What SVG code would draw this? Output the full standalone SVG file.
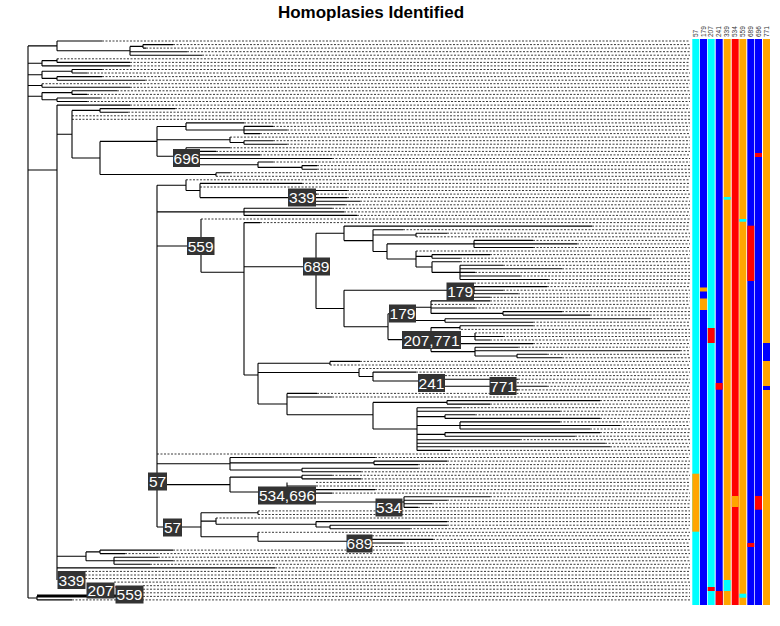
<svg xmlns="http://www.w3.org/2000/svg" width="780" height="626" viewBox="0 0 780 626">
<style>
.ln{fill:none;stroke:#000;stroke-width:1.1}
.dt{fill:none;stroke:#3a3a3a;stroke-width:1;stroke-dasharray:2 1.5}
.bx{fill:#333}
.lb{fill:#fff;font-family:"Liberation Sans",Arial,sans-serif;font-size:15.5px;text-anchor:middle}
.cl{fill:#333;font-family:"Liberation Sans",Arial,sans-serif;font-size:6.5px}
</style>
<rect width="780" height="626" fill="#fff"/>
<text x="371" y="18" font-family="Liberation Sans,Arial,sans-serif" font-weight="bold" font-size="17" text-anchor="middle" fill="#000">Homoplasies Identified</text>

<g id="leaf-guides">
<path class="dt" d="M102 41H690M173 44.6H690M146 48.1H690M187 51.7H690M202 55.2H690M57 58.8H690M130 62.4H690M130 65.9H690M102 69.5H690M87 73H690M102 76.6H690M145 80.2H690M42 83.7H690M130 87.3H690M117 90.8H690M87 94.4H690M100 98H690M87 101.5H690
M130 105.1H690M175 108.6H690M128 112.2H690M72 115.8H690M72 119.3H690M244 122.9H690M273 126.4H690M287 130H690M260 133.6H690M230 137.1H690M273 140.7H690M287 144.2H690M230 147.8H690M216 151.4H690M260 154.9H690M332 158.5H690M273 162H690M317 165.6H690M317 169.2H690M230 172.7H690M216 176.3H690
M186 179.8H690M302 183.4H690M200 187H690M347 190.5H690M317 194.1H690M347 197.6H690M360 201.2H690M345 204.8H690M332 208.3H690M344 211.9H690M357 215.4H690
M201 219H690M260 222.6H690M592 226.1H690M403 229.7H690M447 233.2H690M416 236.8H690M533 240.4H690M577 243.9H690M533 247.5H690M416 251H690M490 254.6H690M460 258.2H690M460 261.7H690M503 265.3H690M562 268.8H690M475 272.4H690M520 276H690M548 279.5H690
M474 283.1H690M547 286.6H690M503 290.2H690M518 293.8H690M490 297.3H690M490 300.9H690M431 304.4H690M475 308H690M562 311.6H690M590 315.1H690M650 318.7H690M533 322.2H690M533 325.8H690M461 329.4H690M475 332.9H690M503 336.5H690M490 340H690M533 343.6H690M518 347.2H690M680 350.7H690M547 354.3H690M562 357.8H690
M360 361.4H690M330 365H690M359 368.5H690M416 372.1H690M445 375.6H690M518 379.2H690M517 382.8H690M547 386.3H690M518 389.9H690M317 393.4H690M332 397H690M600 400.6H690M490 404.1H690M460 407.7H690M560 411.2H690M475 414.8H690M600 418.4H690M560 421.9H690M620 425.5H690M590 429H690M600 432.6H690M575 436.2H690M520 439.7H690M605 443.3H690M610 446.8H690M450 450.4H690
M157 454H690M375 457.5H690M447 461.1H690M418 464.6H690M418 468.2H690M361 471.8H690M332 475.3H690M361 478.9H690M316 482.4H690M316 486H690M375 489.6H690M332 493.1H690M490 496.7H690M447 500.2H690M432 503.8H690M418 507.4H690
M258 510.9H690M258 514.5H690M216 518H690M447 521.6H690M447 525.2H690M410 528.7H690M258 532.3H690M372 535.8H690M433 539.4H690M403 543H690M372 546.5H690
M173 550.1H690M125 553.6H690M158 557.2H690M173 560.8H690M150 564.3H690M275 567.9H690M85 571.4H690M85 575H690M85 578.6H690M114 582.1H690M143 585.7H690M143 589.2H690M143 592.8H690M143 596.4H690M72 599.9H690"/>
</g>

<g id="tree-connectors">
<path class="ln" d="M28 45.9V598M57 41V50.8M130 46.4V55.2M143 44.6V48.1M57 58.8V62.4M42 60.6V65.9M72 69.5V73M57 76.6V80.2M42 71.3V78.4M42 83.7V87.3M72 90.8V94.4M57 98V101.5M42 92.6V99.8
M28 45.9H57M57 50.8H130M130 46.4H143M42 60.6H57M28 63.3H42M42 71.3H72M42 78.4H57M28 74.8H42M28 85.5H42M42 92.6H72M42 99.8H57M28 96.2H42
M57 41H102M143 44.6H173M143 48.1H146M130 51.7H187M130 55.2H202M57 62.4H130M42 65.9H130M72 69.5H102M72 73H87M57 76.6H102M57 80.2H145M42 87.3H130M72 90.8H117M72 94.4H87M57 98H100M57 101.5H87"/>
<path class="ln" d="M57 105.1V580M28 170H57M57 105.1H130
M100 108.6V112.2M72 110.4H100M100 108.6H175M100 112.2H128M72 110.4V158M57 134.2H72
M186 122.9V130M157 126.5H186M186 122.9H244M244 126.4V133.6M186 130H244M244 126.4H273M244 130H287M244 133.6H260
M230 137.1V142.5M157 139.8H230M244 140.7V144.2M230 142.5H244M244 140.7H273M244 144.2H287
M186 147.8V164.7M157 156.3H186M186 147.8H230M186 151.4H216M186 154.9H260M186 158.5H332M258 162V167.4M186 164.7H258M258 162H273M302 165.6V169.2M258 167.4H302M302 165.6H317M302 169.2H317
M157 126.5V156.3M100 141.4H157M216 172.7V176.3M100 174.5H216M216 172.7H230M100 141.4V174.5M72 158H100
M186 179.8V190.5M157 185.2H186M200 183.4V197.6M186 190.5H200M200 183.4H302M302 190.5V204.8M200 197.6H302M302 190.5H347M302 194.1H317M302 197.6H347M302 201.2H360M302 204.8H345
M244 208.3V215.4M157 211.9H244M244 208.3H332M244 211.9H344M244 215.4H357
M157 185.2V527"/>
<path class="ln" d="M201 219V272.3M157 246H201M244 222.6V375M201 272.3H244M244 222.6H260
M316 233.3V308.5M244 266.7H316M344 226.1V240.6M316 233.3H344M344 226.1H592M373 229.7V251.5M344 240.6H373M373 229.7H403M416 233.2V236.8M373 235H416M416 233.2H447
M387 243.9V259M373 251.5H387M474 240.4V247.5M387 243.9H474M474 240.4H533M474 243.9H577M474 247.5H533
M416 251V267M387 259H416M432 254.6V258.2M416 256.4H432M432 254.6H490M432 258.2H460M432 261.7V272.4M416 267H432M432 261.7H460
M460 265.3V279.5M432 272.4H460M460 265.3H503M460 268.8H562M460 272.4H475M460 276H520M460 279.5H548
M344 290.2V326.7M316 308.5H344M460 283.1V297.3M344 290.2H460M474 286.6V293.8M460 290.2H474M474 286.6H547M474 290.2H503M474 293.8H518M460 297.3H490
M388 313.8V339.6M344 326.7H388M402 307.2V320.5M388 313.8H402M431 300.9V313.4M402 307.2H431M431 300.9H490M431 308H475M503 311.6V315.1M431 313.4H503M503 311.6H562M503 315.1H590M445 318.7V322.2M402 320.5H445M445 318.7H650M445 322.2H533
M431 327.6V351.6M388 339.6H431M460 325.8V329.4M431 327.6H460M460 325.8H533M475 332.9V340M431 336.5H475M475 336.5H503M475 340H490M431 343.6H533M475 347.2V356M431 351.6H475M475 347.2H518M475 350.7H680M517 354.3V357.8M475 356H517M517 354.3H547M517 357.8H562"/>
<path class="ln" d="M258 363.2V404M244 375H258M330 361.4V365M258 363.2H330M330 361.4H360M359 368.5V376.5M258 372.5H359M373 372.1V381M359 376.5H373M373 372.1H416
M431 375.6V386.3M373 381H431M431 379.2H518M503 382.8V389.9M431 386.3H503M503 386.3H547M503 389.9H518
M287 393.4V414.7M258 404H287M287 393.4H317M287 397H332M373 402.4V429M287 414.7H373M447 400.6V404.1M373 402.4H447M447 400.6H600M447 404.1H490
M417 407.7V450.4M373 429H417M417 407.7H460M417 411.2H560M445 414.8V418.4M417 416.6H445M445 414.8H475M445 418.4H600M460 421.9V429M417 425.5H460M460 421.9H560M460 425.5H620M460 429H590M445 432.6V436.2M417 434.4H445M445 432.6H600M445 436.2H575M417 439.7H520M417 443.3H605M417 446.8H610M417 450.4H450
M230 457.5V470M157 463.8H230M230 457.5H375M374 461.1V464.6M230 462.9H374M374 461.1H447M374 464.6H418M302 468.2V471.8M230 470H302M302 468.2H418M302 471.8H361
M230 477.1V492M157 484.6H230M302 475.3V478.9M230 477.1H302M302 475.3H332M302 478.9H361
M287 482.4V502M230 492H287M287 486H316M287 489.6H375M287 493.1H332M404 496.7V507.4M287 502H404M404 496.7H490M404 500.2H447M404 503.8H432M404 507.4H418
M201 512.7V536.7M157 527H201M258 510.9V514.5M201 512.7H258M216 518V524.3M201 521.1H216M316 521.6V527M216 524.3H316M316 521.6H447M330 525.2V528.7M316 527H330M330 525.2H447M330 528.7H410
M258 532.3V541.2M201 536.7H258M360 535.8V546.5M258 541.2H360M360 539.4H433M360 543H403
M86 551.9V560.8M57 556.3H86M100 550.1V553.6M86 551.9H100M100 550.1H173M100 553.6H125M114 557.2V564.3M86 560.8H114M114 557.2H158M114 560.8H173M114 564.3H150M57 567.9H275
M37 596V600M28 598H37M37 599.9H72"/>
<path d="M37 596H117" stroke="#000" stroke-width="3" fill="none"/>
<path d="M115 587H130" stroke="#c00" stroke-width="1.2" fill="none"/>
</g>

<g id="node-696"><rect class="bx" x="173" y="149" width="27" height="18"/><text class="lb" x="186.5" y="163.5">696</text></g>
<g id="node-339a"><rect class="bx" x="288" y="188.5" width="28" height="18"/><text class="lb" x="302" y="203">339</text></g>
<g id="node-559a"><rect class="bx" x="187" y="237" width="27.5" height="18"/><text class="lb" x="200.7" y="251.5">559</text></g>
<g id="node-689a"><rect class="bx" x="303" y="257.5" width="27" height="18"/><text class="lb" x="316.5" y="272">689</text></g>
<g id="node-179a"><rect class="bx" x="446.5" y="282.5" width="27.5" height="18"/><text class="lb" x="460.2" y="297">179</text></g>
<g id="node-179b"><rect class="bx" x="389" y="304.5" width="27" height="18"/><text class="lb" x="402.5" y="319">179</text></g>
<g id="node-207-771"><rect class="bx" x="402" y="331" width="59" height="18"/><text class="lb" x="431.5" y="345.5">207,771</text></g>
<g id="node-241"><rect class="bx" x="418" y="374" width="27" height="18"/><text class="lb" x="431.5" y="388.5">241</text></g>
<g id="node-771"><rect class="bx" x="489.5" y="377" width="27" height="18"/><text class="lb" x="503" y="391.5">771</text></g>
<g id="node-57a"><rect class="bx" x="148" y="472.5" width="19" height="18"/><text class="lb" x="157.5" y="487">57</text></g>
<g id="node-534-696"><rect class="bx" x="258" y="486.5" width="58" height="18"/><text class="lb" x="287" y="501">534,696</text></g>
<g id="node-534"><rect class="bx" x="375.5" y="498.5" width="27" height="18"/><text class="lb" x="389" y="513">534</text></g>
<g id="node-57b"><rect class="bx" x="163" y="518.5" width="19" height="18"/><text class="lb" x="172.5" y="533">57</text></g>
<g id="node-689b"><rect class="bx" x="346.5" y="534.5" width="26" height="18"/><text class="lb" x="359.5" y="549">689</text></g>
<g id="node-339b"><rect class="bx" x="57.5" y="571" width="28" height="18"/><text class="lb" x="71.5" y="585.5">339</text></g>
<g id="node-207"><rect class="bx" x="86.5" y="582.5" width="28" height="16"/><text class="lb" x="100.5" y="596">207</text></g>
<g id="node-559b"><rect class="bx" x="115.5" y="585.5" width="28" height="18"/><text class="lb" x="129.5" y="600">559</text></g>

<g id="heatmap">
<rect x="692.3" y="39" width="7" height="566" fill="#0ff"/><rect x="692.3" y="473.7" width="7" height="58" fill="#ffa500"/>
<rect x="700" y="39" width="7" height="566" fill="#00f"/><rect x="700" y="287.5" width="7" height="4" fill="#ffa500"/><rect x="700" y="298.5" width="7" height="11.5" fill="#ffa500"/>
<rect x="707.7" y="39" width="7" height="566" fill="#0ff"/><rect x="707.7" y="328" width="7" height="15" fill="#f00"/><rect x="707.7" y="587" width="7" height="4" fill="#f00"/>
<rect x="715.7" y="39" width="7" height="566" fill="#00f"/><rect x="715.7" y="383" width="7" height="6.7" fill="#f00"/><rect x="715.7" y="591" width="7" height="14" fill="#f00"/>
<rect x="723.7" y="39" width="7" height="566" fill="#ffa500"/><rect x="723.7" y="197" width="7" height="2.7" fill="#0ff"/><rect x="723.7" y="580" width="7" height="11" fill="#0ff"/>
<rect x="731.7" y="39" width="7" height="566" fill="#f00"/><rect x="731.7" y="496" width="7" height="11" fill="#ffa500"/>
<rect x="739.3" y="39" width="7" height="566" fill="#ffa500"/><rect x="739.3" y="219" width="7" height="2.7" fill="#0ff"/><rect x="739.3" y="593.7" width="7" height="4" fill="#0ff"/>
<rect x="747.3" y="39" width="7" height="566" fill="#00f"/><rect x="747.3" y="225.7" width="7" height="55.3" fill="#f00"/><rect x="747.3" y="543" width="7" height="4" fill="#f00"/>
<rect x="755" y="39" width="7" height="566" fill="#00f"/><rect x="755" y="153" width="7" height="4" fill="#f00"/><rect x="755" y="496" width="7" height="13.7" fill="#f00"/>
<rect x="763" y="39" width="7" height="566" fill="#ffa500"/><rect x="763" y="343" width="7" height="18" fill="#00f"/><rect x="763" y="386" width="7" height="4" fill="#00f"/>
</g>
<g id="column-labels">
<text class="cl" transform="translate(698 37) rotate(-90)">57</text>
<text class="cl" transform="translate(705.7 37) rotate(-90)">179</text>
<text class="cl" transform="translate(713.4 37) rotate(-90)">207</text>
<text class="cl" transform="translate(721.4 37) rotate(-90)">241</text>
<text class="cl" transform="translate(729.4 37) rotate(-90)">339</text>
<text class="cl" transform="translate(737.4 37) rotate(-90)">534</text>
<text class="cl" transform="translate(745 37) rotate(-90)">559</text>
<text class="cl" transform="translate(753 37) rotate(-90)">689</text>
<text class="cl" transform="translate(760.7 37) rotate(-90)">696</text>
<text class="cl" transform="translate(768.7 37) rotate(-90)">771</text>
</g>
</svg>
